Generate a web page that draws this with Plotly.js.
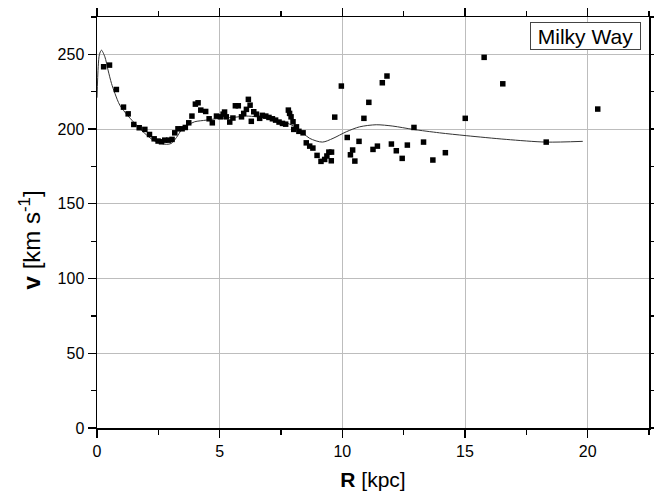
<!DOCTYPE html>
<html>
<head>
<meta charset="utf-8">
<script src="https://cdn.plot.ly/plotly-3.0.1.min.js"></script>
<style>html,body{margin:0;padding:0;background:#fff}#chart{width:654px;height:497px}</style>
</head>
<body>
<div id="chart"></div>
<script>
// Observed rotation curve points (R in kpc, v in km/s)
const obsR = [0.27,0.51,0.79,1.08,1.27,1.50,1.72,1.95,2.14,2.33,2.49,2.63,2.76,2.92,3.06,3.17,3.30,3.47,3.60,3.74,3.87,4.01,4.12,4.23,
  4.43,4.57,4.70,4.87,5.03,5.14,5.20,5.27,5.41,5.54,5.64,5.76,5.89,5.98,6.09,6.17,6.24,6.29,6.39,6.50,6.63,6.74,6.88,7.01,7.15,7.28,7.42,7.56,7.69,
  7.80,7.85,7.91,7.99,8.02,8.13,8.23,8.40,8.53,8.67,8.80,8.97,9.13,9.28,9.37,9.45,9.56,9.55,9.69,9.96,
  10.20,10.33,10.42,10.51,10.68,10.88,11.08,11.25,11.43,11.63,11.82,12.00,12.20,12.44,12.65,12.92,13.31,13.69,14.20,15.01,15.78,16.54,18.31,20.41];
const obsV = [241.7,242.8,226.5,214.7,210.2,203.1,200.9,199.8,196.4,193.5,192.0,191.5,192.6,192.6,193.1,197.5,200.2,200.2,201.1,204.2,208.7,216.7,217.6,212.7,
  211.8,206.9,204.2,208.7,208.2,210.0,211.4,208.2,204.7,207.4,215.6,215.6,208.2,210.5,213.2,219.9,216.0,205.2,211.6,210.0,207.2,209.2,208.7,207.8,206.9,206.0,204.7,203.8,203.3,
  212.7,210.5,208.2,204.9,199.8,201.5,198.5,197.5,190.8,188.6,187.3,182.4,178.4,179.7,182.0,184.6,184.6,178.8,208.0,228.8,
  194.4,182.8,186.0,178.6,191.8,207.2,217.9,186.4,188.6,231.0,235.5,190.0,185.5,180.4,189.3,201.1,191.3,179.3,184.2,207.2,248.0,230.3,191.3,213.4];

// Model rotation curve
const modelR = [0.0,0.05,0.10,0.18,0.32,0.45,0.59,0.73,0.93,1.27,1.61,1.95,2.29,2.63,2.83,3.03,3.24,3.44,3.71,3.98,4.46,5.0,5.54,6.09,6.5,7.04,7.58,8.13,8.67,9.19,9.62,10.16,10.7,11.38,12.06,12.88,13.96,15.05,16.68,18.31,19.8];
const modelV = [221,242,250,252.8,248.4,239.5,230.6,223.9,216,208.7,202.7,197.1,192.6,190.4,189.8,190.4,194.4,199.3,202.7,204.9,206,207.2,207.8,208.7,208.2,206.5,204.9,201.1,193.8,191.3,193.8,198.2,201.5,202.9,202,199.8,197.5,195.6,193.1,191.3,191.8];

const xTickVals = [0,5,10,15,20];
const yTickVals = [0,50,100,150,200,250];
const legendLabel = "Milky Way";
const xTitle = "<b>R</b> [kpc]";
const yTitle = "<b>v</b> [km s<sup>-1</sup>]";

const FONT = "Liberation Sans, Arial, sans-serif";

const traces = [
  {x: modelR, y: modelV, type: "scatter", mode: "lines",
   line: {color: "#333333", width: 1, shape: "spline", smoothing: 0.8}, hoverinfo: "skip", showlegend: false},
  {x: obsR, y: obsV, type: "scatter", mode: "markers",
   marker: {symbol: "square", size: 5.5, color: "#000000"}, showlegend: false}
];

const axisCommon = {
  showline: true, linecolor: "#000", linewidth: 1.5, mirror: "allticks",
  ticks: "outside", ticklen: 8, tickwidth: 1.2, tickcolor: "#000",
  showgrid: true, gridcolor: "#bdbdbd", gridwidth: 1, zeroline: false,
  tickfont: {family: FONT, size: 16, color: "#000"}
};

const layout = {
  width: 654, height: 497,
  margin: {l: 97, r: 5, t: 17, b: 69},
  paper_bgcolor: "#fff", plot_bgcolor: "#fff",
  font: {family: FONT, color: "#000"},
  xaxis: Object.assign({}, axisCommon, {
    range: [0, 22.5], tickvals: xTickVals, ticktext: xTickVals.map(String),
    minor: {dtick: 2.5, tick0: 0, ticks: "outside", ticklen: 5, tickwidth: 1.2, tickcolor: "#000", showgrid: false},
    title: {text: xTitle, font: {family: FONT, size: 21, color: "#000"}, standoff: 13}
  }),
  yaxis: Object.assign({}, axisCommon, {
    range: [0, 275], tickvals: yTickVals, ticktext: yTickVals.map(String),
    minor: {dtick: 25, tick0: 0, ticks: "outside", ticklen: 5, tickwidth: 1.2, tickcolor: "#000", showgrid: false}
  }),
  annotations: [{
    text: legendLabel, xref: "paper", yref: "paper",
    x: 0.9855, y: 0.9886, xanchor: "right", yanchor: "top",
    showarrow: false, font: {family: FONT, size: 21, color: "#000"},
    bordercolor: "#444", borderwidth: 1, borderpad: 1, bgcolor: "#fff",
    width: 107, height: 24, align: "center"
  }, {
    text: yTitle, xref: "paper", yref: "paper",
    x: -0.121, y: 0.457, xanchor: "center", yanchor: "middle",
    textangle: -90, showarrow: false,
    font: {family: FONT, size: 24, color: "#000"}
  }]
};

Plotly.newPlot("chart", traces, layout, {staticPlot: true, displayModeBar: false});
</script>
</body>
</html>
